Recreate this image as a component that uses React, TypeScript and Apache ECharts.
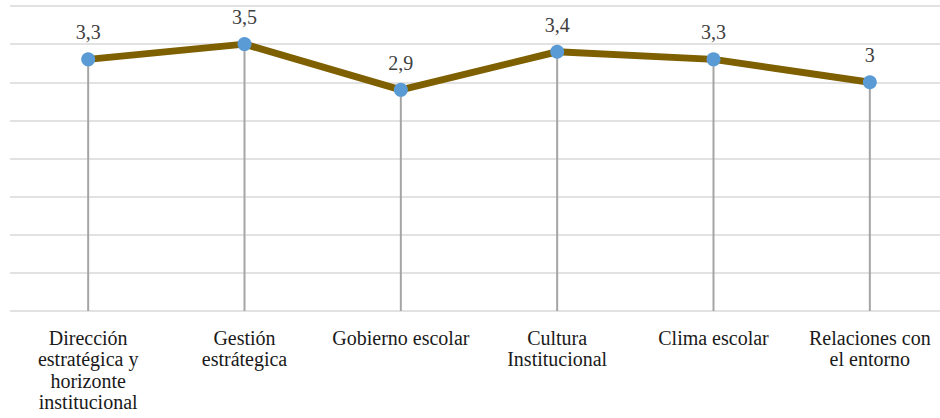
import React, { useEffect, useRef } from "react";
import * as echarts from "echarts";

const categories = [
  "Dirección\nestratégica y\nhorizonte\ninstitucional",
  "Gestión\nestrátegica",
  "Gobierno escolar",
  "Cultura\nInstitucional",
  "Clima escolar",
  "Relaciones con\nel entorno",
];
const values = [3.3, 3.5, 2.9, 3.4, 3.3, 3];
const axisMin = 0;
const axisMax = 4;
const axisInterval = 0.5;

const serif = "'Liberation Serif', 'Times New Roman', serif";

export default function App() {
  const ref = useRef<HTMLDivElement>(null);
  useEffect(() => {
    if (!ref.current) return;
    const chart = echarts.init(ref.current, undefined, { renderer: "svg" });
    chart.setOption({
      animation: false,
      backgroundColor: "#ffffff",
      grid: {
        left: 10,
        width: 938,
        top: 6,
        height: 305,
        containLabel: false,
        outerBoundsMode: "none",
      },
      xAxis: {
        type: "category",
        data: categories,
        boundaryGap: true,
        axisLine: { show: false },
        axisTick: { show: false },
        axisLabel: {
          color: "#1a1a1a",
          fontFamily: serif,
          fontSize: 20,
          lineHeight: 21.5,
          margin: 16,
          interval: 0,
          align: "center",
          hideOverlap: false,
        },
      },
      yAxis: {
        type: "value",
        min: axisMin,
        max: axisMax,
        interval: axisInterval,
        axisLine: { show: false },
        axisTick: { show: false },
        axisLabel: { show: false },
        splitLine: { show: true, lineStyle: { color: "#D9D9D9", width: 1.5 } },
      },
      series: [
        {
          type: "bar",
          data: values,
          barWidth: 2,
          itemStyle: { color: "#A5A5A5" },
          z: 1,
          silent: true,
        },
        {
          type: "line",
          data: values,
          z: 3,
          symbol: "circle",
          symbolSize: 14,
          itemStyle: { color: "#5B9BD5" },
          lineStyle: { color: "#7F6000", width: 7 },
          label: {
            show: true,
            position: "top",
            distance: 10,
            color: "#404040",
            fontFamily: serif,
            fontSize: 20,
            formatter: (p: any) => String(p.value).replace(".", ","),
          },
        },
      ],
    });
    return () => chart.dispose();
  }, []);
  return (
    <div
      ref={ref}
      style={{ position: "fixed", left: 0, top: 0, width: 940, height: 418 }}
    />
  );
}
